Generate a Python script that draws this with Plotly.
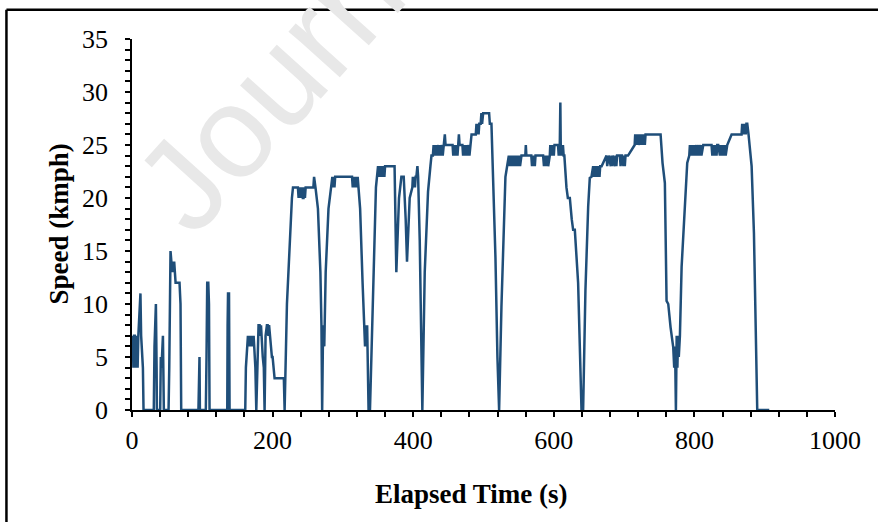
import plotly.graph_objects as go

time_s = [
    1, 2, 3, 4, 5, 6, 7, 8, 9, 10, 11, 12, 13, 14.5, 15.5, 16.4,
    31, 32, 33, 34, 35, 35.4,
    40.1, 41, 42, 43, 44, 45.3,
    52, 53, 54.8, 56, 57, 58, 59, 60, 61, 62, 64, 66, 67.6, 69, 70,
    94.5, 95.1, 96, 96.6,
    105, 106, 107, 108.5, 109.5, 110.3,
    135.5, 136, 136.6, 138, 138.8,
    161.1, 162, 164.9, 166, 167, 168, 169, 170, 171, 172, 173, 174.4, 175.5, 176.8,
    178.5, 180, 181.5, 182.5, 183.5, 184.5, 186, 187.5, 188.6,
    190, 191.9, 193, 194, 195, 196, 197, 198, 199, 200, 201, 202.8, 216, 217.1,
    220.4, 224.2, 227.5, 229, 236, 237, 238, 239, 240, 241, 242, 243, 244, 245, 246, 247,
    258, 259, 260, 261, 264.5, 268, 269.5, 270.5, 271.5, 272.5, 273.5, 275.5, 279.5, 282.5,
    285, 286, 287, 288, 289, 313, 314, 315, 316, 317, 318, 319, 320, 321, 322, 323,
    324.5, 328, 330.5, 331.5, 332.5, 333.5, 334.5, 336.5, 338.5, 341.5, 345, 347, 350,
    351, 352, 353, 354, 355, 356, 357, 358, 359, 360, 362, 373.5,
    376, 379.8, 383.2, 386.5, 389.3, 391.2, 395, 398.8, 399.5, 400.5, 401.5, 402.5, 403.5, 404.5,
    406, 407, 409.3, 411.6, 413, 416.4, 421.1, 424.5,
    426, 428, 429, 430, 431, 432, 433, 434, 436, 437, 438, 439, 441, 442, 444, 445, 446,
    456, 457, 458, 459, 460, 461, 462, 463, 464, 465, 466, 470, 471, 472, 473, 474, 475,
    476, 477, 479, 480, 482, 483, 489, 490, 491, 492, 493, 494, 496, 497, 498, 499.5,
    508, 509, 511.3, 513.6, 517, 519.8, 522.2, 525.5, 528.8, 531.2, 533.6, 536,
    537.4, 538.5, 540, 541.5, 543, 544.5, 546, 547.5, 549, 550.5, 552, 554,
    559.5, 560.2, 561, 568, 569, 570, 571, 572, 573, 574, 575.4,
    584.8, 586, 587, 588, 589, 590, 591, 592, 594.3,
    595, 596, 597, 598, 599, 600, 601, 606, 607, 608.5, 609.3, 610, 610.8, 612, 613, 614, 615,
    618, 620, 622.8, 624, 625.5, 627.5, 629.9, 634.6, 638, 639.4, 641.7,
    645, 648.9, 651.2, 653.6, 656, 657, 658, 659, 660, 661, 662, 663, 664, 665, 666, 668,
    675, 676, 677, 678, 681, 682, 683, 684, 687, 688, 689, 690, 694, 695, 696, 697,
    699, 700, 701, 702, 704, 705.6, 715, 715.8, 716.5, 717.5, 718.5, 719.5, 720.5, 721.5,
    722.4, 723.5, 724.5, 725.5, 726.5, 727.5, 728.5, 729.5, 730.5, 732, 751.9,
    754.7, 758, 760.4, 762.8, 766.1, 769.9, 771.3, 772.5, 773.7, 774.8, 775.8, 776.8, 777.8, 779.4,
    781.8, 786.5, 789.8, 792.7,
    793.6, 795, 796, 797, 798, 799, 800, 801, 803, 804, 806, 807, 809, 810, 812.6,
    824.4, 825.5, 826.5, 827.5, 828.5, 829.5, 830.5, 831.5, 832.5, 833.9,
    836.3, 837.5, 838.5, 839.5, 840.5, 841.5, 842.5, 843.5, 844.5, 846.7,
    852.9, 867.1, 868, 869, 870, 871, 872, 873, 874, 875.2,
    877, 879, 881.4, 884.7, 887.1, 889.4, 906.5,
]

speed_kmph = [
    7, 4, 7, 7, 4, 7, 5, 4, 7, 9, 11, 11, 7, 4, 4, 0,
    0, 6, 10, 10, 4, 0,
    0, 5, 4, 7, 7, 0,
    0, 4, 15, 14, 13, 14, 13, 14, 13, 12, 12, 12, 12, 10, 0,
    0, 5, 5, 0,
    0, 5, 12, 12, 10, 0,
    0, 8, 11, 11, 0,
    0, 4, 7, 6, 7, 6, 7, 6, 7, 6, 7, 5, 4, 0,
    6, 8, 8, 7, 8, 6, 5, 4, 0,
    7, 8, 8, 7, 8, 7, 6, 6, 5, 5, 4, 3, 3, 0,
    10, 16, 20, 21, 21, 20, 21, 20, 21, 20, 21, 20, 20, 21, 20, 21,
    21, 22, 21, 21, 19, 13, 8, 0, 6, 8, 6, 13, 19, 21,
    22, 21, 22, 21, 22, 22, 21, 22, 21, 22, 21, 22, 21, 22, 21, 21,
    19, 12, 8, 6, 8, 6, 8, 0, 0, 8, 16, 21, 23,
    22, 23, 22, 23, 22, 23, 22, 23, 22, 23, 23, 23,
    13, 20, 22, 22, 18, 14, 20, 21, 22, 21, 22, 21, 22, 22,
    23, 22, 16, 6.5, 0, 13, 20.6, 23,
    24, 24, 25, 24, 25, 24, 25, 24, 25, 24, 25, 24, 25, 24, 25, 26, 25,
    25, 24, 25, 24, 25, 24, 25, 24, 25, 26, 25, 25, 24, 25, 24, 25, 24,
    25, 24, 25, 24, 25, 26, 26, 27, 26, 27, 26, 27, 27, 28, 27, 28,
    28, 27, 27, 22.4, 14.4, 5, 0, 9.7, 17.6, 22, 23, 24,
    23, 24, 23, 24, 23, 24, 23, 24, 23, 24, 23, 24,
    24, 25, 24, 24, 23, 24, 23, 24, 23, 24, 24,
    24, 23, 24, 23, 24, 23, 24, 23, 24,
    25, 24, 25, 24, 25, 24, 25, 25, 24, 25, 29, 24, 25, 24, 25, 24, 24,
    21, 20, 20, 19, 18, 17, 17, 12, 3.4, 0, 0,
    11.3, 19.2, 21.9, 22, 23, 22, 23, 22, 23, 22, 23, 22, 23, 22, 23, 23,
    24, 23, 24, 24, 23, 24, 23, 24, 23, 24, 23, 24, 24, 23, 24, 24,
    23, 24, 23, 24, 24, 24, 25, 26, 25, 26, 25, 26, 25, 26,
    26, 25, 26, 25, 26, 25, 26, 25, 26, 26, 26,
    23.3, 21.4, 10.3, 10, 7.8, 5.9, 4, 6, 0, 7, 4, 7, 5, 7,
    13.5, 19.8, 23.3, 24,
    25, 24, 25, 24, 25, 24, 25, 24, 25, 24, 25, 24, 25, 24, 25,
    25, 24, 25, 24, 25, 24, 25, 24, 25, 25,
    24, 25, 24, 25, 24, 25, 24, 25, 24, 25,
    26, 26, 27, 26, 27, 26, 27, 26, 27, 27,
    26, 24.6, 23, 16.7, 7.2, 0, 0,
]

x_ticks = [0, 200, 400, 600, 800, 1000]
y_ticks = [0, 5, 10, 15, 20, 25, 30, 35]

SERIF = "Liberation Serif, Times New Roman, serif"

fig = go.Figure()
fig.add_trace(go.Scatter(
    x=time_s, y=speed_kmph, mode="lines",
    line=dict(color="#1f4e79", width=2.5),
    hoverinfo="skip", showlegend=False,
))

fig.update_layout(
    width=878, height=522,
    margin=dict(l=132, r=43, t=39, b=112),
    paper_bgcolor="white", plot_bgcolor="white",
    font=dict(family=SERIF, color="black", size=26),
    xaxis=dict(
        range=[0, 1000], tickvals=x_ticks, ticktext=[str(v) for v in x_ticks],
        showgrid=False, zeroline=False, showline=True, linecolor="black", linewidth=1.5,
        ticks="outside", ticklen=5, tickwidth=1.5, tickcolor="black",
        minor=dict(dtick=40, ticks="outside", ticklen=5, tickwidth=1.5, tickcolor="black"),
        tickfont=dict(family=SERIF, size=26, color="black"), ticklabelstandoff=1,
    ),
    yaxis=dict(
        range=[0, 35], tickvals=y_ticks, ticktext=[str(v) for v in y_ticks],
        showgrid=False, zeroline=False, showline=True, linecolor="black", linewidth=1.5,
        ticks="outside", ticklen=5, tickwidth=1.5, tickcolor="black",
        minor=dict(dtick=1, ticks="outside", ticklen=5, tickwidth=1.5, tickcolor="black"),
        tickfont=dict(family=SERIF, size=26, color="black"), ticklabelstandoff=12,
    ),
)

# axis titles
fig.add_annotation(text="<b>Elapsed Time (s)</b>", xref="paper", yref="paper",
                   x=0.4833, y=-0.2255, showarrow=False, xanchor="center", yanchor="middle",
                   font=dict(family=SERIF, size=27, color="black"))
fig.add_annotation(text="<b>Speed (kmph)</b>", xref="paper", yref="paper",
                   x=-0.1032, y=0.501, showarrow=False, xanchor="center", yanchor="middle",
                   textangle=-90, font=dict(family=SERIF, size=27, color="black"))

# watermark
fig.add_annotation(text="Journal Pre-proof", xref="paper", yref="paper",
                   x=(497 - 132.5) / 702.5, y=(409.5 + 163) / 370.2, showarrow=False,
                   xanchor="center", yanchor="middle", textangle=-48,
                   font=dict(family="Liberation Sans, Arial, sans-serif", size=130, color="#e8e8e8"))

# outer frame (left and top edges visible)
fig.add_shape(type="line", xref="paper", yref="paper",
              x0=-0.1786, x1=-0.1786, y0=-0.5, y1=1.0791, line=dict(color="black", width=2.5))
fig.add_shape(type="line", xref="paper", yref="paper",
              x0=-0.1786, x1=1.2, y0=1.0791, y1=1.0791, line=dict(color="black", width=2.5))

fig.write_html("out.html", config={"displayModeBar": False},
               post_script="document.body.style.margin='0';document.body.style.overflow='hidden';")
